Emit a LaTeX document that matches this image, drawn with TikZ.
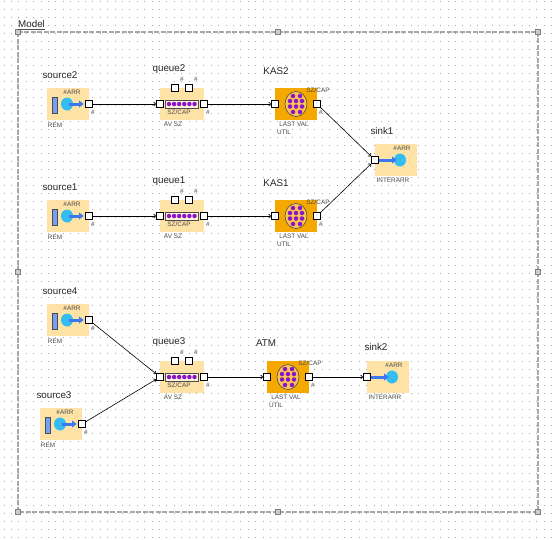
\documentclass[tikz,border=0pt]{standalone}
\usepackage{fontspec}
\setmainfont{Liberation Sans}
\usepackage{xcolor}
\usepackage{tikz}
\usetikzlibrary{arrows.meta}
\definecolor{panel}{HTML}{FFE2A6}
\definecolor{panelserver}{HTML}{F5A800}
\definecolor{blobcyan}{HTML}{33BDF0}
\definecolor{arrowblue}{HTML}{3C78F0}
\definecolor{tokenpurple}{HTML}{8A14C8}
\definecolor{gridgray}{HTML}{A8A8A8}
\definecolor{framegray}{HTML}{A8A8A8}

\begin{document}
\begin{tikzpicture}[
    x=1pt, y=-1pt,
    title/.style={inner sep=0pt, font=\fontsize{9.8}{10}\selectfont, text=black!85},
    tiny/.style={inner sep=0pt, font=\fontsize{6.4}{7}\selectfont, text=black!70},
    port/.style={rectangle, draw=black, fill=white, line width=0.8pt, minimum size=7pt, inner sep=0pt},
    handle/.style={rectangle, draw=gray, fill=black!20, minimum size=5pt, inner sep=0pt},
    link/.style={black, line width=0.6pt, -{Straight Barb[length=2pt,width=4pt]}},
    blobarrow/.style={arrowblue, line width=3pt, -{Latex[length=5pt,width=8pt]}},
    token/.style={circle, fill=tokenpurple, minimum size=4.5pt, inner sep=0pt},
    source/.pic={
        \fill[panel] (0,0) rectangle (42,32);
        \draw[black!70, fill=arrowblue!70, line width=0.5pt] (5,9) rectangle (10,25);
        \fill[blobcyan] (20,16) ellipse (6 and 6.5);
        \draw[blobarrow] (22,16) -- (37,16);
        \node[port] (-out) at (42,16) {};
        \node[tiny] at (25,4) {\#ARR};
        \node[tiny] at (8,37) {REM};
        \node[tiny] at (46,24) {\#};
    },
    queue/.pic={
        \fill[panel] (0,0) rectangle (44,32);
        \draw[black!70, fill=panel!40, line width=0.5pt] (5,12) rectangle (38,20);
        \foreach \i in {0,...,5} \node[token] at (9+\i*5.1,16) {};
        \node[port] (-in) at (0,16) {};
        \node[port] (-out) at (44,16) {};
        \node[port] (-top1) at (15,0) {};
        \node[port] (-top2) at (29,0) {};
        \node[tiny] at (22,-9) {\#};
        \node[tiny] at (36,-9) {\#};
        \node[tiny] at (48,24) {\#};
        \node[tiny] at (19,24) {SZ/CAP};
        \node[tiny] at (13,36) {AV SZ};
    },
    server/.pic={
        \fill[panelserver] (0,0) rectangle (42,32);
        \draw[black!70, fill=panel!50!panelserver, line width=0.6pt] (21,16) ellipse (11 and 12.5);
        \foreach \px/\py in {18/8, 25/8, 15/13, 21/13, 27/13, 15/18.5, 21/18.5, 27/18.5, 18/24, 25/24}
            \node[token] at (\px,\py) {};
        \node[port] (-in) at (0,16) {};
        \node[port] (-out) at (42,16) {};
        \node[tiny] at (43,2) {SZ/CAP};
        \node[tiny] at (46,24) {\#};
        \node[tiny] at (19,36) {LAST VAL};
        \node[tiny] at (9,44) {UTIL};
    },
    sink/.pic={
        \fill[panel] (0,0) rectangle (42,32);
        \fill[blobcyan] (25,16) ellipse (6 and 6.5);
        \draw[blobarrow] (4,16) -- (22,16);
        \node[port] (-in) at (0,16) {};
        \node[tiny] at (27,4) {\#ARR};
        \node[tiny] at (18,36) {INTERARR};
    }
]
    \useasboundingbox (0,0) rectangle (559,539);
    \fill[white] (0,0) rectangle (559,539);

    % Grid
    \foreach \gx in {0,...,75}
        \foreach \gy in {0,...,67}
            \fill[gridgray] (3.5+\gx*7.4,1+\gy*8) rectangle +(0.9,0.9);

    % Frame
    \coordinate (nw) at (18,32);
    \coordinate (se) at (538,512);
    \draw[framegray, line width=1.1pt, dash pattern=on 5pt off 1.5pt] (nw) rectangle (se);
    \foreach \hx/\hy in {18/32, 278/32, 538/32, 18/272, 538/272, 18/512, 278/512, 538/512}
        \node[handle] at (\hx,\hy) {};
    \node[title, anchor=south west] (model) at (18,28) {Model};
    \draw[black!70, line width=0.5pt] (model.south west) ++(0,1) -- ++(27,0);

    % Upper row
    \pic (source2) at (47,88) {source};
    \pic (queue2) at (160,88) {queue};
    \pic (kas2) at (275,88) {server};
    \node[title] at (60,75) {source2};
    \node[title] at (169,69) {queue2};
    \node[title] at (276,71) {KAS2};

    % Middle row
    \pic (source1) at (47,200) {source};
    \pic (queue1) at (160,200) {queue};
    \pic (kas1) at (275,200) {server};
    \pic (sink1) at (375,144) {sink};
    \node[title] at (60,187) {source1};
    \node[title] at (169,181) {queue1};
    \node[title] at (276,183) {KAS1};
    \node[title] at (382,131) {sink1};

    % Lower row
    \pic (source4) at (47,304) {source};
    \pic (source3) at (40,408) {source};
    \pic (queue3) at (160,361) {queue};
    \pic (atm) at (267,361) {server};
    \pic (sink2) at (367,361) {sink};
    \node[title] at (60,291) {source4};
    \node[title] at (54,395) {source3};
    \node[title] at (169,342) {queue3};
    \node[title] at (266,343) {ATM};
    \node[title] at (376,347) {sink2};

    % Links
    \draw[link] (source2-out) -- (queue2-in);
    \draw[link] (queue2-out) -- (kas2-in);
    \draw[link] (kas2-out) -- (sink1-in);
    \draw[link] (source1-out) -- (queue1-in);
    \draw[link] (queue1-out) -- (kas1-in);
    \draw[link] (kas1-out) -- (sink1-in);
    \draw[link] (source4-out) -- (queue3-in);
    \draw[link] (source3-out) -- (queue3-in);
    \draw[link] (queue3-out) -- (atm-in);
    \draw[link] (atm-out) -- (sink2-in);
\end{tikzpicture}
\end{document}
